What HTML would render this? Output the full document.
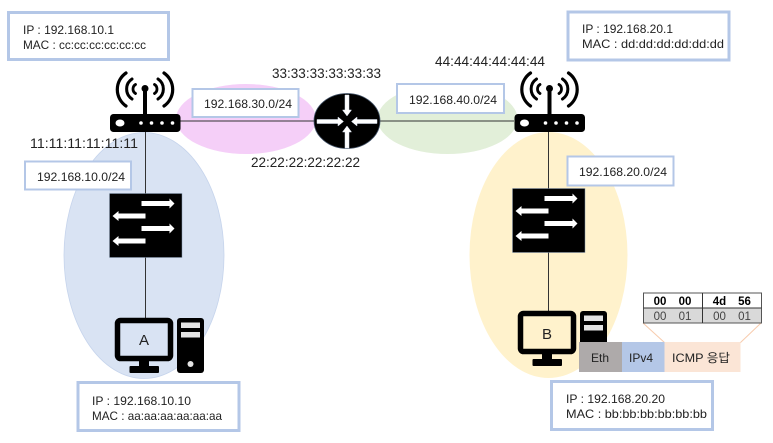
<!DOCTYPE html>
<html><head><meta charset="utf-8"><style>
html,body{margin:0;padding:0;background:#fff}
svg{display:block}
text{font-family:"Liberation Sans","Noto Sans CJK KR",sans-serif;fill:#222;font-size:12px}
.m{font-size:13.5px}
.b{fill:#fff;stroke:#b4c7e7}
</style></head><body>
<svg width="773" height="443" viewBox="0 0 773 443" xmlns="http://www.w3.org/2000/svg">
<defs>
<g id="router">
<g fill="none" stroke="#000" stroke-linecap="round">
<path d="M25.500 3.500A5.300 5.300 0 0 0 25.500 12.500" stroke-width="2.800"/>
<path d="M44.500 3.500A5.300 5.300 0 0 1 44.500 12.500" stroke-width="2.800"/>
<path d="M22 -2A12 12 0 0 0 22 18" stroke-width="3"/>
<path d="M48 -2A12 12 0 0 1 48 18" stroke-width="3"/>
<path d="M16 -8A20 20 0 0 0 16 25" stroke-width="3.200"/>
<path d="M54 -8A20 20 0 0 1 54 25" stroke-width="3.200"/>
</g>
<circle cx="35" cy="7.500" r="3.500" fill="#000"/>
<rect x="33" y="7" width="4" height="27" fill="#000"/>
<rect x="0" y="33" width="70.500" height="18" rx="3.500" fill="#000"/>
<ellipse cx="10" cy="42" rx="4.500" ry="3.500" fill="#fff"/>
<circle cx="31" cy="42" r="1.800" fill="#fff"/><circle cx="41.500" cy="42" r="1.800" fill="#fff"/><circle cx="52" cy="42" r="1.800" fill="#fff"/><circle cx="62.500" cy="42" r="1.800" fill="#fff"/>
</g>
<g id="switch">
<rect x="0" y="0" width="72.500" height="64" fill="#000" stroke="#8497b0" stroke-width=".5"/>
<g fill="#fff">
<path d="M32 7.500H60V5L65 10 60 15V12.500H32Z"/>
<path d="M36 20H9V17.500L3 22.500 9 27.500V25H36Z"/>
<path d="M32 32.500H60V30L65 35 60 40V37.500H32Z"/>
<path d="M36 45H9V42.500L3 47.500 9 52.500V50H36Z"/>
</g>
</g>
<g id="pc">
<rect x="2.500" y="2.500" width="53" height="38" rx="3" fill="none" stroke="#000" stroke-width="5.500"/>
<rect x="24" y="42" width="10" height="8" fill="#000"/>
<rect x="14.500" y="48" width="29.500" height="7" rx="1" fill="#000"/>
<rect x="62" y="0" width="27" height="55" rx="3" fill="#000"/>
<rect x="66" y="4.500" width="19" height="5.500" fill="#e4e4e4"/>
<rect x="66" y="14" width="19" height="5.500" fill="#e4e4e4"/>
</g>
</defs>

<ellipse cx="144" cy="255.500" rx="80" ry="123" fill="#d9e3f3" stroke="#c6d4ec" stroke-width=".8"/>
<ellipse cx="548.500" cy="255" rx="79" ry="123" fill="#fff2cc"/>
<ellipse cx="246" cy="119" rx="70" ry="35" fill="#f5cff8"/>
<ellipse cx="447.500" cy="119" rx="70" ry="35" fill="#e2efd9"/>

<g stroke="#333" stroke-width="1" fill="none">
<path d="M180 121H514"/>
<path d="M145.500 130V194M145.500 256V319"/>
<path d="M548.500 130V189M548.500 251V312"/>
</g>

<!-- router center -->
<ellipse cx="347" cy="121" rx="33" ry="27.500" fill="#000" stroke="#44546a" stroke-width=".8"/>
<g fill="#fff" stroke="#dbe4f3" stroke-width=".5">
<path d="M317 119.500H338V117L343.500 121.500 338 126V123.500H317Z"/>
<path d="M377 119.500H357V117L351.500 121.500 357 126V123.500H377Z"/>
<path d="M345 95V110H342.500L347 116 351.500 110H349V95Z"/>
<path d="M345 148V132H342.500L347 126 351.500 132H349V148Z"/>
</g>

<use href="#router" x="110" y="81"/>
<use href="#router" x="514.500" y="81"/>
<use href="#switch" x="109.500" y="193.500"/>
<use href="#switch" x="512.500" y="188.500"/>
<use href="#pc" x="115" y="318"/>
<circle cx="190.500" cy="364" r="3" fill="#e4e4e4"/>
<use href="#pc" x="518" y="311"/>

<text x="144" y="345" text-anchor="middle" style="font-size:15px">A</text>
<text x="547" y="339" text-anchor="middle" style="font-size:15px">B</text>

<!-- boxes -->
<rect class="b" x="8.500" y="12.500" width="160" height="47" stroke-width="3"/>
<text x="23" y="34" textLength="91" lengthAdjust="spacingAndGlyphs">IP : 192.168.10.1</text>
<text x="23" y="49" textLength="123" lengthAdjust="spacingAndGlyphs">MAC : cc:cc:cc:cc:cc:cc</text>

<rect class="b" x="568" y="12" width="161" height="48" stroke-width="3"/>
<text x="582" y="33" textLength="91" lengthAdjust="spacingAndGlyphs">IP : 192.168.20.1</text>
<text x="582" y="48" textLength="142" lengthAdjust="spacingAndGlyphs">MAC : dd:dd:dd:dd:dd:dd</text>

<rect class="b" x="78" y="382.500" width="161" height="48" stroke-width="3"/>
<text x="92" y="405" textLength="99" lengthAdjust="spacingAndGlyphs">IP : 192.168.10.10</text>
<text x="92" y="420" textLength="130" lengthAdjust="spacingAndGlyphs">MAC : aa:aa:aa:aa:aa:aa</text>

<rect class="b" x="551.500" y="381.500" width="161" height="48" stroke-width="3"/>
<text x="566" y="403" textLength="99" lengthAdjust="spacingAndGlyphs">IP : 192.168.20.20</text>
<text x="566" y="418" textLength="141" lengthAdjust="spacingAndGlyphs">MAC : bb:bb:bb:bb:bb:bb</text>

<rect class="b" x="25" y="161.500" width="106" height="28" stroke-width="2"/>
<text x="37" y="181" textLength="88" lengthAdjust="spacingAndGlyphs">192.168.10.0/24</text>

<rect class="b" x="192.500" y="89" width="106" height="28" stroke-width="2"/>
<text x="204" y="108" textLength="88" lengthAdjust="spacingAndGlyphs">192.168.30.0/24</text>

<rect class="b" x="397" y="84" width="107" height="29" stroke-width="2"/>
<text x="409" y="104" textLength="88" lengthAdjust="spacingAndGlyphs">192.168.40.0/24</text>

<rect class="b" x="567.500" y="156.500" width="106" height="29" stroke-width="2"/>
<text x="579" y="176" textLength="88" lengthAdjust="spacingAndGlyphs">192.168.20.0/24</text>

<!-- MACs -->
<text class="m" x="30" y="148" textLength="108" lengthAdjust="spacingAndGlyphs">11:11:11:11:11:11</text>
<text class="m" x="272" y="78" textLength="109" lengthAdjust="spacingAndGlyphs">33:33:33:33:33:33</text>
<text class="m" x="251" y="167" textLength="109" lengthAdjust="spacingAndGlyphs">22:22:22:22:22:22</text>
<text class="m" x="435" y="66" textLength="110" lengthAdjust="spacingAndGlyphs">44:44:44:44:44:44</text>

<!-- packet -->
<path d="M643 323L665 343M761 323L740 343" stroke="#f8cbad" stroke-width="1" fill="none"/>
<rect x="579" y="342" width="43" height="30" fill="#aeaaaa"/>
<rect x="622" y="342" width="42.500" height="30" fill="#b4c7e7"/>
<rect x="664.500" y="342" width="76" height="30" fill="#fbe5d6"/>
<text x="591" y="362">Eth</text>
<text x="629" y="362">IPv4</text>
<text x="672" y="362" textLength="58" lengthAdjust="spacingAndGlyphs">ICMP 응답</text>

<!-- table -->
<rect x="643.500" y="293" width="118" height="15" fill="#fff"/>
<rect x="643.500" y="308" width="118" height="15" fill="#d9d9d9"/>
<rect x="643.500" y="293" width="118" height="30" fill="none" stroke="#555" stroke-width="1"/>
<path d="M643.500 308H761.500M702.500 293V323" stroke="#333" stroke-width="1" fill="none"/>
<g text-anchor="middle">
<text x="660" y="305" style="font-size:11.500px;font-weight:bold;fill:#000">00</text>
<text x="685" y="305" style="font-size:11.500px;font-weight:bold;fill:#000">00</text>
<text x="719.500" y="305" style="font-size:11.500px;font-weight:bold;fill:#000">4d</text>
<text x="744.500" y="305" style="font-size:11.500px;font-weight:bold;fill:#000">56</text>
<text x="660" y="320" style="font-size:11.500px;fill:#444">00</text>
<text x="685" y="320" style="font-size:11.500px;fill:#444">01</text>
<text x="719.500" y="320" style="font-size:11.500px;fill:#444">00</text>
<text x="744.500" y="320" style="font-size:11.500px;fill:#444">01</text>
</g>
</svg>
</body></html>
